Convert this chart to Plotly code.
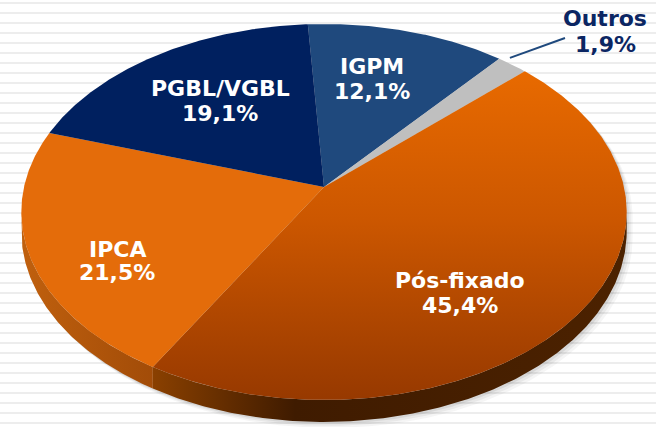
import numpy as np
import plotly.graph_objects as go

# Composição da carteira (%)
categorias = ["IGPM", "Outros", "Pós-fixado", "IPCA", "PGBL/VGBL"]
valores = [12.1, 1.9, 45.4, 21.5, 19.1]

# Estilo de cada fatia
cor_topo = {
    "IGPM": "#1F497D",
    "Outros": "#BFBFBF",
    "Pós-fixado": None,  # gradiente
    "IPCA": "#E46C0A",
    "PGBL/VGBL": "#00205F",
}
grad_topo = {"Pós-fixado": [[0, "#E86A00"], [0.45, "#CC5700"], [1, "#973900"]]}
grad_lado = {
    "Pós-fixado": [[0, "#8A4000"], [0.3, "#3F1B00"], [1, "#4C2200"]],
    "IPCA": [[0, "#C0600E"], [1, "#A24C08"]],
    "IGPM": [[0, "#10284A"], [1, "#10284A"]],
    "Outros": [[0, "#8C8C8C"], [1, "#8C8C8C"]],
    "PGBL/VGBL": [[0, "#001238"], [1, "#001238"]],
}
# posição dos rótulos (centro da linha do nome e da linha do valor)
rotulo_xy = {
    "IGPM": (372, 66, 91),
    "Outros": (605, 18, 44),
    "Pós-fixado": (460, 280, 305),
    "IPCA": (117, 249, 272),
    "PGBL/VGBL": (220, 88, 113),
}
cor_texto = {"Outros": "#0B2663"}

# projeção em perspectiva do disco
CX, CY, A, B, K = 324.0, 187.0, 300.0, 184.7, 0.133
ESP = 19.0
INICIO = -3.5


def proj(phi_deg, r=1.0):
    p = np.radians(phi_deg)
    u, v = r * np.sin(p), r * np.cos(p)
    s = 1.0 / (1.0 + K * v)
    return CX + A * u * s, CY - B * v * s


def esp(phi_deg):
    return ESP / (1.0 + K * np.cos(np.radians(phi_deg)))


def arco(a0, a1):
    n = max(4, int(abs(a1 - a0) * 2))
    return np.linspace(a0, a1, n)


fig = go.Figure()

# faixas do fundo
for yy in np.arange(3, 427, 10):
    fig.add_shape(type="line", xref="x", yref="y", x0=0, x1=656, y0=yy, y1=yy,
                  line=dict(color="#EDEDED", width=2), layer="below")

# sombra suave
lim = np.degrees(np.arccos(-K))
fr = arco(lim, 360 - lim)
tr = arco(-lim, lim)
sx = list(proj(tr)[0]) + list(proj(fr)[0])
sy = list(proj(tr)[1]) + list(proj(fr)[1] + esp(fr))
for d, a in [(6, 0.04), (4, 0.05), (2, 0.07)]:
    fig.add_trace(go.Scatter(x=[x + d for x in sx], y=[y + d for y in sy], fill="toself",
                             fillcolor=f"rgba(0,0,0,{a})", line=dict(width=0),
                             mode="lines", hoverinfo="skip", showlegend=False))

total = sum(valores)
angulos = []
a = INICIO
for v in valores:
    d = 360.0 * v / total
    angulos.append((a, a + d))
    a += d

# paredes laterais (parte frontal)
for cat, (a0, a1) in zip(categorias, angulos):
    lo, hi = max(a0, lim), min(a1, 360 - lim)
    if hi <= lo:
        continue
    ph = arco(lo, hi)
    xt, yt = proj(ph)
    xb, yb = xt[::-1], (yt + esp(ph))[::-1]
    xs = list(xt) + list(xb)
    ys = list(yt) + list(yb)
    fig.add_trace(go.Scatter(
        x=xs, y=ys, fill="toself", mode="lines", line=dict(width=0),
        fillgradient=dict(type="horizontal", colorscale=grad_lado[cat],
                          start=min(xs), stop=max(xs)),
        hoverinfo="skip", showlegend=False))

# faces superiores
for cat, (a0, a1) in zip(categorias, angulos):
    ph = arco(a0, a1)
    xa, ya = proj(ph)
    xs = [CX] + list(xa) + [CX]
    ys = [CY] + list(ya) + [CY]
    kw = dict(fillcolor=cor_topo[cat])
    if cat in grad_topo:
        kw = dict(fillgradient=dict(type="vertical", colorscale=grad_topo[cat],
                                    start=min(ys), stop=max(ys)))
    fig.add_trace(go.Scatter(x=xs, y=ys, fill="toself", mode="lines",
                             line=dict(width=0), hoverinfo="skip",
                             showlegend=False, **kw))

# linha de chamada de "Outros"
i = categorias.index("Outros")
px, py = proj(angulos[i][0] + 1.5, r=1.03)
fig.add_trace(go.Scatter(x=[px, 565], y=[py, 38], mode="lines",
                         line=dict(color="#1F497D", width=2),
                         hoverinfo="skip", showlegend=False))

# rótulos
for cat, v in zip(categorias, valores):
    x, y1, y2 = rotulo_xy[cat]
    cor = cor_texto.get(cat, "white")
    for txt, yy in [(cat, y1), (f"{v:.1f}%".replace(".", ","), y2)]:
        fig.add_annotation(x=x, y=yy, xref="x", yref="y", text=txt, showarrow=False,
                           xanchor="center", yanchor="middle",
                           font=dict(family="DejaVu Sans", size=22, color=cor,
                                     weight="bold"))

fig.update_xaxes(range=[0, 656], visible=False, fixedrange=True)
fig.update_yaxes(range=[427, 0], visible=False, fixedrange=True)
fig.update_layout(width=656, height=427, margin=dict(l=0, r=0, t=0, b=0),
                  plot_bgcolor="white", paper_bgcolor="white")

fig.write_html("out.html")
